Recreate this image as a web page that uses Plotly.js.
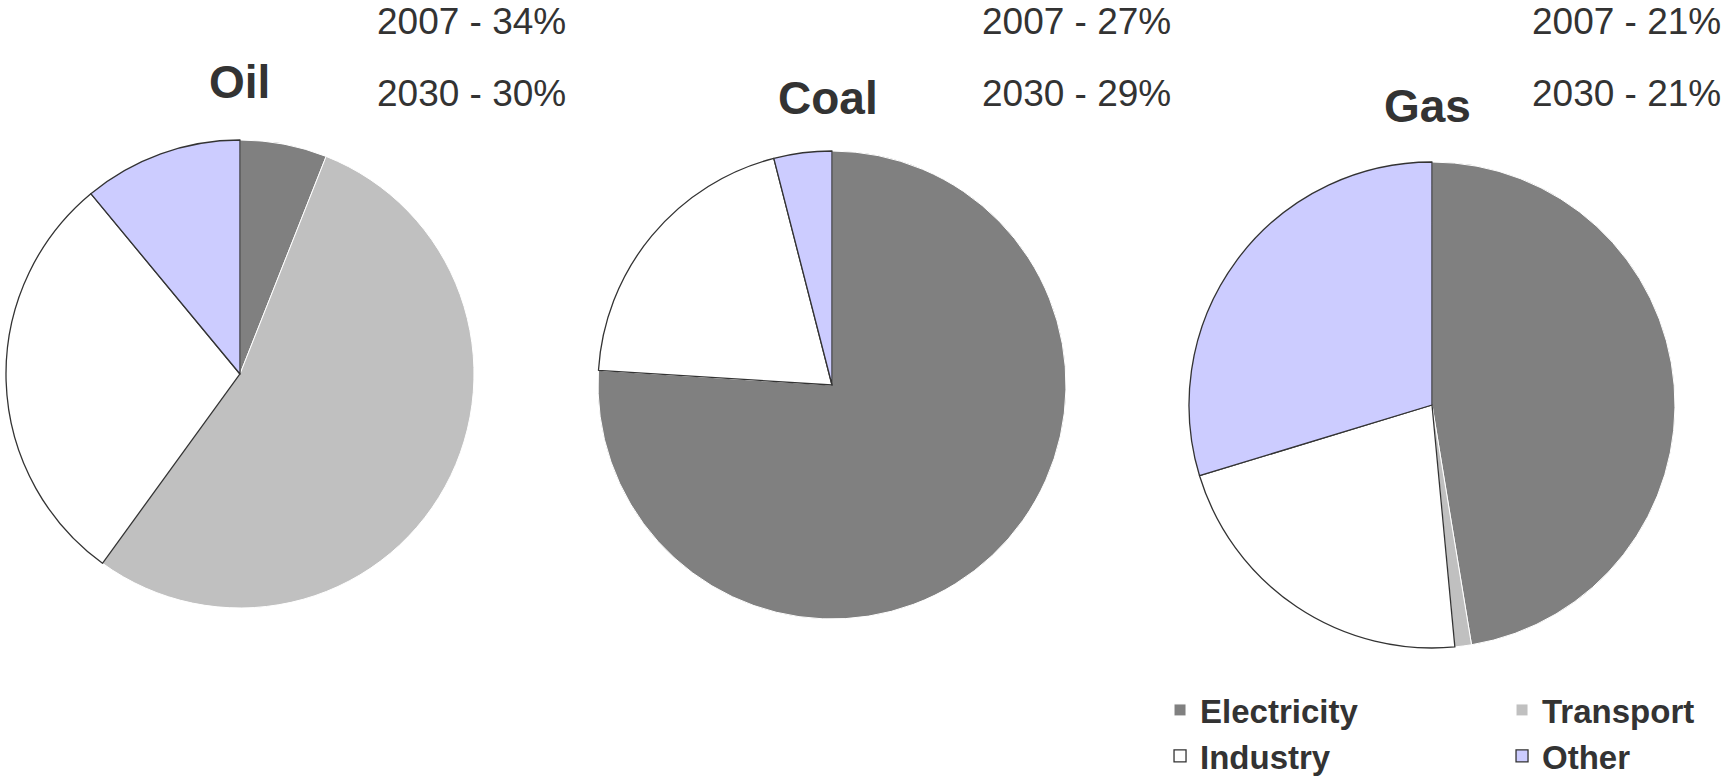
<!DOCTYPE html>
<html>
<head>
<meta charset="utf-8">
<script src="https://cdn.plot.ly/plotly-3.0.1.min.js"></script>
<style>
  html, body { margin: 0; padding: 0; background: #ffffff; }
  #chart { width: 1725px; height: 778px; }
</style>
</head>
<body>
<div id="chart"></div>
<script>
// ---- data ----
var sectors = ['Electricity', 'Transport', 'Industry', 'Other'];
var fuels = ['Oil', 'Coal', 'Gas'];
var oilShares = [6, 54, 29, 11];
var coalShares = [76, 0, 20, 4];
var gasShares = [47.4, 1.1, 21.8, 29.7];
var share2007 = [34, 27, 21];
var share2030 = [30, 29, 21];

// ---- styles ----
var sectorColors = ['#808080', '#c0c0c0', '#ffffff', '#ccccff'];
var sectorLineColors = ['#ffffff', '#ffffff', '#333333', '#333333'];
var sectorLineWidths = [1, 1, 1.3, 1.3];
var FONT = 'Liberation Sans, Arial, Helvetica, sans-serif';
var TXT = '#333333';

var domains = [
  {x: [0.00348, 0.27478], y: [0.2185, 0.8201]},
  {x: [0.34667, 0.61797], y: [0.20437, 0.80591]},
  {x: [0.68928, 0.97101], y: [0.16710, 0.79177]}
];
var seriesValues = [oilShares, coalShares, gasShares];

var traces = fuels.map(function (f, i) {
  return {
    type: 'pie',
    name: f,
    labels: sectors,
    values: seriesValues[i],
    sort: false,
    direction: 'clockwise',
    rotation: 0,
    textinfo: 'none',
    hoverinfo: 'none',
    showlegend: i === 0,
    domain: domains[i],
    marker: {
      colors: sectorColors,
      line: {color: sectorLineColors, width: sectorLineWidths}
    }
  };
});

var titlePos = [
  {x: 239, y: 82},
  {x: 828, y: 98},
  {x: 1427, y: 106}
];
var valuePosX = [375, 980, 1530];
var W = 1725, H = 778;

var annotations = [];
fuels.forEach(function (f, i) {
  annotations.push({
    text: f, xref: 'paper', yref: 'paper',
    x: titlePos[i].x / W, y: 1 - titlePos[i].y / H,
    xanchor: 'center', yanchor: 'middle', showarrow: false,
    font: {family: FONT, size: 46, color: TXT, weight: 'bold'}
  });
  annotations.push({
    text: '2007 - ' + share2007[i] + '%', xref: 'paper', yref: 'paper',
    x: valuePosX[i] / W, y: 1 - 22 / H,
    xanchor: 'left', yanchor: 'middle', showarrow: false,
    font: {family: FONT, size: 37, color: TXT}
  });
  annotations.push({
    text: '2030 - ' + share2030[i] + '%', xref: 'paper', yref: 'paper',
    x: valuePosX[i] / W, y: 1 - 93 / H,
    xanchor: 'left', yanchor: 'middle', showarrow: false,
    font: {family: FONT, size: 37, color: TXT}
  });
});

var layout = {
  width: W,
  height: H,
  margin: {l: 0, r: 0, t: 0, b: 0, autoexpand: false},
  paper_bgcolor: '#ffffff',
  plot_bgcolor: '#ffffff',
  font: {family: FONT, color: TXT},
  showlegend: true,
  legend: {
    orientation: 'h',
    xref: 'paper', yref: 'paper',
    x: 1.069, xanchor: 'right',
    y: 1 - 682 / 778, yanchor: 'top',
    entrywidth: 297, entrywidthmode: 'pixels',
    bgcolor: 'rgba(0,0,0,0)',
    borderwidth: 0,
    font: {family: FONT, size: 33, color: TXT, weight: 'bold'}
  },
  annotations: annotations
};

Plotly.newPlot('chart', traces, layout, {staticPlot: true, displayModeBar: false});
</script>
</body>
</html>
